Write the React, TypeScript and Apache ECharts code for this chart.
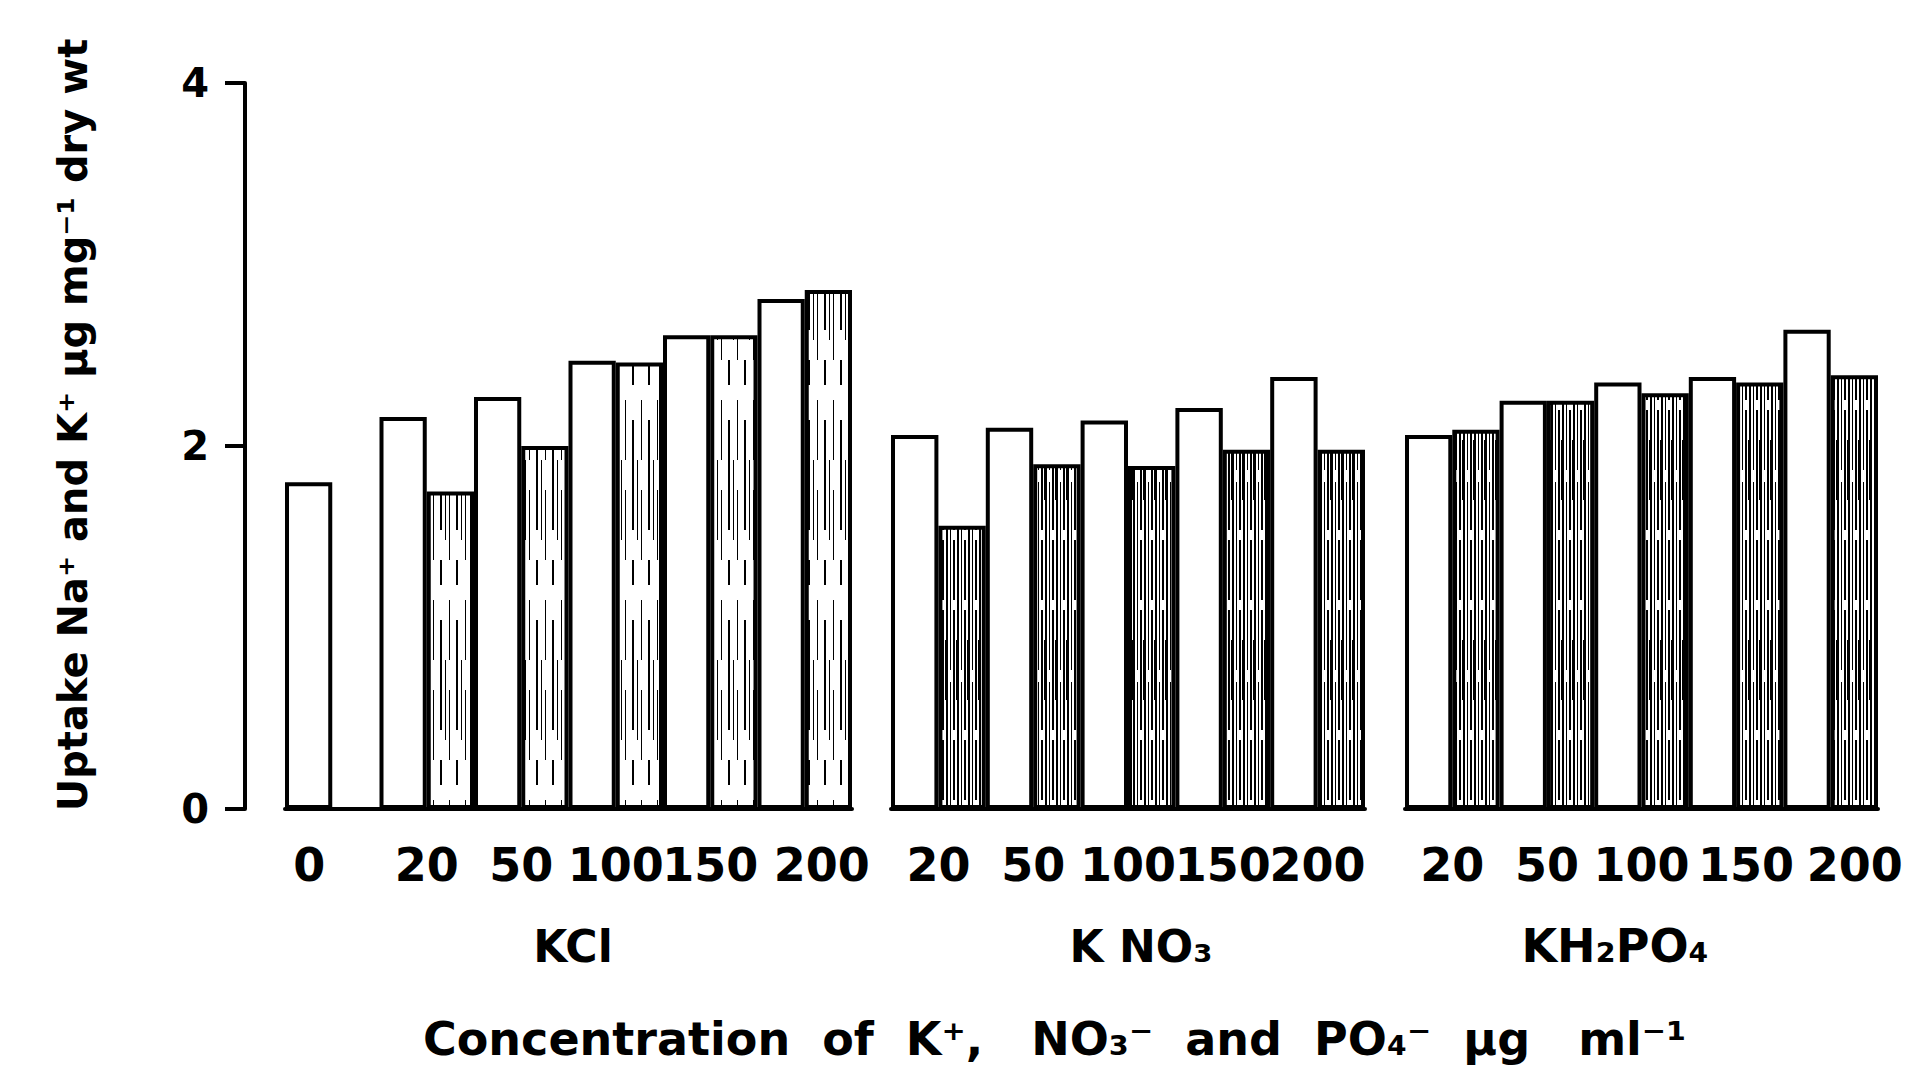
import React, { useEffect, useRef } from "react";
import * as echarts from "echarts";

// ---- data ----
const kclConc = ["0", "20", "50", "100", "150", "200"];
const kno3Conc = ["20", "50", "100", "150", "200"];
const kh2po4Conc = ["20", "50", "100", "150", "200"];

// white bars = Na+ uptake, hatched bars = K+ uptake (µg mg⁻¹ dry wt)
const kclNa = [1.8, 2.16, 2.27, 2.47, 2.61, 2.81];
const kclK = [null, 1.75, 2.0, 2.46, 2.61, 2.86];
const kno3Na = [2.06, 2.1, 2.14, 2.21, 2.38];
const kno3K = [1.56, 1.9, 1.89, 1.98, 1.98];
const kh2po4Na = [2.06, 2.25, 2.35, 2.38, 2.64];
const kh2po4K = [2.09, 2.25, 2.29, 2.35, 2.39];

const yMin = 0;
const yMax = 4;
const yInterval = 2;

const groupLabels = ["KCl", "K NO₃", "KH₂PO₄"];
const yTitle = "Uptake Na⁺ and K⁺ µg mg⁻¹ dry wt";
const xTitle = "Concentration  of  K⁺,   NO₃⁻  and  PO₄⁻  µg   ml⁻¹";

const FONT = "DejaVu Sans";

function makeHatch(dense: boolean): HTMLCanvasElement {
  const c = document.createElement("canvas");
  c.width = dense ? 11 : 16;
  c.height = 200;
  const ctx = c.getContext("2d")!;
  ctx.fillStyle = "#fff";
  ctx.fillRect(0, 0, c.width, c.height);
  ctx.fillStyle = "#000";
  if (dense) {
    ctx.fillRect(0, 0, 2, 200);
    ctx.fillRect(4, 0, 1, 70);
    ctx.fillRect(4, 82, 1, 118);
    ctx.fillRect(7, 10, 2, 120);
    ctx.fillRect(7, 140, 2, 60);
    ctx.fillRect(10, 40, 1, 60);
  } else {
    ctx.fillRect(1, 0, 1, 60);
    ctx.fillRect(1, 90, 1, 70);
    ctx.fillRect(8, 20, 2, 110);
    ctx.fillRect(8, 160, 2, 25);
    ctx.fillRect(13, 60, 1, 80);
  }
  return c;
}

export default function App() {
  const ref = useRef<HTMLDivElement>(null);

  useEffect(() => {
    if (!ref.current) return;
    const chart = echarts.init(ref.current, undefined, { renderer: "svg" });

    const sparse = { image: makeHatch(false), repeat: "repeat" } as any;
    const dense = { image: makeHatch(true), repeat: "repeat" } as any;

    const grids = [
      { left: 285, top: 83, width: 567, height: 726 },
      { left: 891, top: 83, width: 474, height: 726 },
      { left: 1405, top: 83, width: 473, height: 726 },
    ];
    const cats = [kclConc, kno3Conc, kh2po4Conc];
    const na = [kclNa, kno3Na, kh2po4Na];
    const k = [kclK, kno3K, kh2po4K];
    const hatches = [sparse, dense, dense];

    const labelStyle = {
      color: "#000",
      fontSize: 46,
      fontFamily: FONT,
      fontWeight: "bold" as const,
    };

    // hand-lettered labels sit a little off-centre in the original
    const styleFor = (g: number, idx: number, n: number) => {
      if (g === 0 && idx === 0) return "l";
      if (g === 0 && idx === n - 1) return "r1";
      if (g === 2 && idx === n - 2) return "r0";
      if (g === 2 && idx === n - 1) return "r2";
      return "";
    };

    const xAxes = cats.map((c, i) => ({
      type: "category" as const,
      gridIndex: i,
      data: c,
      axisLine: { show: true, lineStyle: { color: "#000", width: 4 } },
      axisTick: { show: false },
      axisLabel: {
        ...labelStyle,
        interval: 0,
        margin: 33,
        formatter: (v: string, idx: number) => {
          const s = styleFor(i, idx, c.length);
          return s ? "{" + s + "|" + v + "}" : v;
        },
        rich: {
          l: { ...labelStyle, padding: [0, 46, 0, 0] },
          r0: { ...labelStyle, padding: [0, 0, 0, 20] },
          r1: { ...labelStyle, padding: [0, 0, 0, 34] },
          r2: { ...labelStyle, padding: [0, 0, 0, 48] },
        },
      },
    }));

    const yAxes = grids.map((_, i) => ({
      type: "value" as const,
      gridIndex: i,
      min: yMin,
      max: yMax,
      interval: yInterval,
      show: i === 0,
      offset: 40,
      splitLine: { show: false },
      axisLine: { show: true, lineStyle: { color: "#000", width: 4 } },
      axisTick: {
        show: true,
        inside: false,
        length: 20,
        lineStyle: { color: "#000", width: 4 },
      },
      axisLabel: { ...labelStyle, fontSize: 40, margin: 36 },
    }));

    const series: any[] = [];
    for (let i = 0; i < 3; i++) {
      series.push({
        type: "bar",
        name: "Na⁺",
        xAxisIndex: i,
        yAxisIndex: i,
        data: na[i],
        barGap: "0%",
        barCategoryGap: "0%",
        itemStyle: { color: "#fff", borderColor: "#000", borderWidth: 4 },
      });
      series.push({
        type: "bar",
        name: "K⁺",
        xAxisIndex: i,
        yAxisIndex: i,
        data: k[i],
        barGap: "0%",
        barCategoryGap: "0%",
        itemStyle: { color: hatches[i], borderColor: "#000", borderWidth: 4 },
      });
    }

    const groupX = [573, 1141, 1615];
    const graphic: any[] = groupLabels.map((t, i) => ({
      type: "text",
      x: groupX[i],
      y: 946,
      style: {
        text: t,
        fill: "#000",
        fontSize: i === 2 ? 46 : 44,
        fontFamily: FONT,
        fontWeight: "bold",
        align: "center",
        verticalAlign: "middle",
      },
    }));
    graphic.push({
      type: "text",
      x: 423,
      y: 1039,
      style: {
        text: xTitle,
        fill: "#000",
        fontSize: 46,
        fontFamily: FONT,
        fontWeight: "bold",
        align: "left",
        verticalAlign: "middle",
      },
    });
    graphic.push({
      type: "text",
      x: 73,
      y: 425,
      rotation: Math.PI / 2,
      style: {
        text: yTitle,
        fill: "#000",
        fontSize: 40,
        fontFamily: FONT,
        fontWeight: "bold",
        align: "center",
        verticalAlign: "middle",
      },
    });

    chart.setOption({
      animation: false,
      backgroundColor: "#fff",
      grid: grids,
      xAxis: xAxes,
      yAxis: yAxes,
      series,
      graphic,
    });

    return () => chart.dispose();
  }, []);

  return (
    <div
      ref={ref}
      style={{ position: "fixed", left: 0, top: 0, width: "1917px", height: "1068px" }}
    />
  );
}
